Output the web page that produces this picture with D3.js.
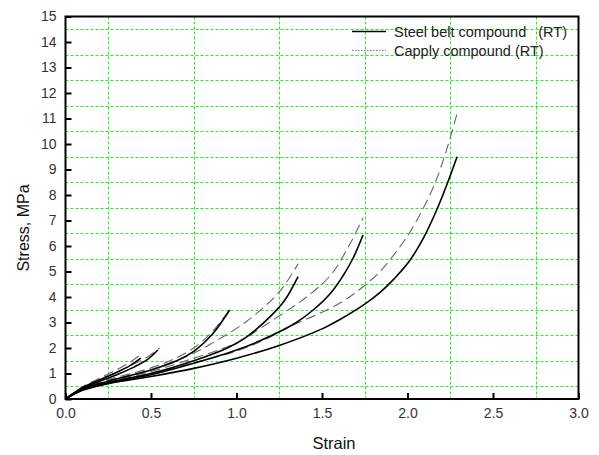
<!DOCTYPE html>
<html>
<head>
<meta charset="utf-8">
<script src="https://cdn.jsdelivr.net/npm/d3@7"></script>
<style>
  body { margin: 0; background: #fff; }
  svg { display: block; font-family: "Liberation Sans", Arial, sans-serif; }
</style>
</head>
<body>
<svg width="599" height="455"></svg>
<script>
// strain / stress pairs
let steel1 = [[0,0],[0.1,0.45],[0.2,0.75],[0.3,1.05],[0.38,1.32],[0.44,1.6]];
let steel2 = [[0,0],[0.1,0.42],[0.2,0.7],[0.3,0.95],[0.4,1.25],[0.48,1.55],[0.54,1.92]];
let steel3 = [[0,0],[0.1,0.4],[0.25,0.7],[0.5,1.14],[0.65,1.5],[0.76,1.92],[0.86,2.55],[0.96,3.49]];
let steel4 = [[0,0],[0.1,0.38],[0.25,0.65],[0.5,1.0],[0.75,1.5],[0.94,1.98],[1.06,2.44],[1.2,3.25],[1.28,3.85],[1.36,4.8]];
let steel5 = [[0,0],[0.1,0.36],[0.25,0.62],[0.5,0.95],[0.75,1.4],[1.0,1.92],[1.16,2.35],[1.35,3.0],[1.45,3.5],[1.55,4.15],[1.62,4.8],[1.68,5.5],[1.74,6.43]];
let steel6 = [[0,0],[0.1,0.34],[0.25,0.6],[0.5,0.88],[0.75,1.2],[1.0,1.6],[1.25,2.1],[1.5,2.75],[1.6,3.1],[1.75,3.72],[1.84,4.18],[1.92,4.7],[2.01,5.4],[2.1,6.4],[2.17,7.4],[2.23,8.4],[2.29,9.5]];

let capply1 = [[0,0],[0.1,0.48],[0.2,0.82],[0.3,1.15],[0.38,1.45],[0.45,1.8]];
let capply2 = [[0,0],[0.1,0.45],[0.2,0.78],[0.3,1.05],[0.4,1.38],[0.48,1.65],[0.55,2.0]];
let capply3 = [[0,0],[0.1,0.44],[0.25,0.76],[0.5,1.22],[0.65,1.62],[0.76,2.05],[0.86,2.65],[0.96,3.5]];
let capply4 = [[0,0],[0.1,0.42],[0.25,0.72],[0.5,1.15],[0.75,1.8],[0.86,2.2],[1.06,3.05],[1.25,4.2],[1.36,5.3]];
let capply5 = [[0,0],[0.1,0.4],[0.25,0.7],[0.5,1.08],[0.75,1.6],[1.0,2.2],[1.18,2.95],[1.33,3.62],[1.41,4.0],[1.55,4.85],[1.66,6.04],[1.74,7.1]];
let capply6 = [[0,0],[0.1,0.4],[0.25,0.68],[0.5,1.02],[0.75,1.42],[1.0,1.88],[1.16,2.31],[1.33,2.9],[1.45,3.25],[1.56,3.6],[1.66,4.0],[1.74,4.4],[1.84,5.0],[1.92,5.65],[2.01,6.5],[2.09,7.45],[2.16,8.45],[2.23,9.8],[2.29,11.2]];

let steelCurves = [steel1, steel2, steel3, steel4, steel5, steel6];
let capplyCurves = [capply1, capply2, capply3, capply4, capply5, capply6];

let xTicks = [0, 0.5, 1.0, 1.5, 2.0, 2.5, 3.0];
let yTicks = d3.range(0, 16, 1);
let xGrid = [0.25, 0.75, 1.25, 1.75, 2.25, 2.75];
let yGrid = d3.range(0.5, 15, 1);

let legendLabels = ["Steel belt compound   (RT)", "Capply compound (RT)"];

let svg = d3.select("svg");

let aux = { left: 65.5, right: 578.5, top: 16.5, bottom: 399 };

let x = d3.scaleLinear().domain([0, 3]).range([aux.left, aux.right]);
let y = d3.scaleLinear().domain([0, 15]).range([aux.bottom, aux.top]);

// green grid
let grid = svg.append("g")
  .attr("stroke", "#22ee22")
  .attr("stroke-width", 1)
  .attr("stroke-dasharray", "3,2");

grid.selectAll(".gx").data(xGrid).join("line")
  .attr("x1", d => Math.round(x(d)) + 0.5).attr("x2", d => Math.round(x(d)) + 0.5)
  .attr("y1", aux.top).attr("y2", aux.bottom);

grid.selectAll(".gy").data(yGrid).join("line")
  .attr("y1", d => Math.round(y(d)) + 0.5).attr("y2", d => Math.round(y(d)) + 0.5)
  .attr("x1", aux.left).attr("x2", aux.right);

// curves
let line = d3.line()
  .x(d => x(d[0]))
  .y(d => y(d[1]))
  .curve(d3.curveCatmullRom.alpha(0.5));

svg.append("g").selectAll("path").data(capplyCurves).join("path")
  .attr("d", line)
  .attr("fill", "none")
  .attr("stroke", "#666")
  .attr("stroke-width", 1.1)
  .attr("stroke-dasharray", "10,5");

svg.append("g").selectAll("path").data(steelCurves).join("path")
  .attr("d", line)
  .attr("fill", "none")
  .attr("stroke", "#000")
  .attr("stroke-width", 1.6);

// axes (ticks pointing inward)
let xAxis = svg.append("g")
  .attr("transform", `translate(0,${aux.bottom})`)
  .call(d3.axisBottom(x).tickValues(xTicks).tickSizeInner(-6).tickSizeOuter(0)
    .tickPadding(9).tickFormat(d3.format(".1f")));

let yAxis = svg.append("g")
  .attr("transform", `translate(${aux.left},0)`)
  .call(d3.axisLeft(y).tickValues(yTicks).tickSizeInner(-6).tickSizeOuter(0)
    .tickPadding(9).tickFormat(d3.format("d")));

[xAxis, yAxis].forEach(a => {
  a.select(".domain").remove();
  a.selectAll(".tick line").attr("stroke", "#000").attr("stroke-width", 2);
  a.selectAll(".tick text").attr("font-size", 14).attr("fill", "#333")
    .attr("font-family", "Liberation Sans, Arial, sans-serif");
});

// frame
svg.append("rect")
  .attr("x", aux.left).attr("y", aux.top)
  .attr("width", aux.right - aux.left).attr("height", aux.bottom - aux.top)
  .attr("fill", "none").attr("stroke", "#000").attr("stroke-width", 2);

// axis titles
svg.append("text")
  .attr("x", 334).attr("y", 449)
  .attr("text-anchor", "middle").attr("font-size", 16.5).attr("fill", "#111")
  .text("Strain");

svg.append("text")
  .attr("transform", "translate(29,228) rotate(-90)")
  .attr("text-anchor", "middle").attr("font-size", 16).attr("fill", "#111")
  .text("Stress, MPa");

// legend
let legend = svg.append("g").attr("font-size", 14.5).attr("fill", "#222");

legend.append("line")
  .attr("x1", 352).attr("x2", 386).attr("y1", 31.5).attr("y2", 31.5)
  .attr("stroke", "#000").attr("stroke-width", 1.6);
legend.append("text").attr("x", 394).attr("y", 37)
  .style("white-space", "pre").attr("xml:space", "preserve")
  .text(legendLabels[0]);

legend.append("line")
  .attr("x1", 352).attr("x2", 386).attr("y1", 50.5).attr("y2", 50.5)
  .attr("stroke", "#777").attr("stroke-width", 1).attr("stroke-dasharray", "1.5,1.5");
legend.append("text").attr("x", 394).attr("y", 56)
  .style("white-space", "pre")
  .text(legendLabels[1]);
</script>
</body>
</html>
